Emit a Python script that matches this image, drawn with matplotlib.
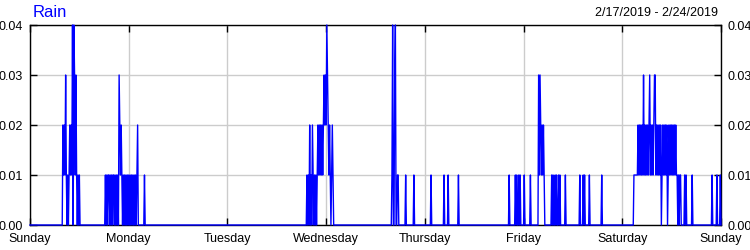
import numpy as np
import pandas as pd
import matplotlib
matplotlib.use('Agg')
import matplotlib.pyplot as plt
import matplotlib.dates as mdates

plt.rcParams['font.family'] = ['Liberation Sans', 'DejaVu Sans']

# readings every 10 minutes starting 2/17/2019 00:00, index = reading number
start = '2019-02-17'
n_slots = 7 * 144 + 1

rain_001 = [49, 51, 53, 55, 57, 59, 61, 66, 68, 70, 72,
            110, 112, 114, 115, 117, 119, 121, 122, 124, 126, 128, 132, 134, 136, 138,
            140, 142, 144, 146, 148, 150, 152, 154, 156, 167,
            404, 406, 410, 413, 415, 417, 419, 421, 423, 425, 427, 436, 438, 440, 442,
            528, 536, 537, 548, 560, 585, 604, 610, 625,
            699, 708, 710, 713, 715, 721, 730, 743, 746, 748, 750, 761, 763, 766, 768,
            771, 773, 781, 802, 807, 809, 816, 834,
            881, 882, 883, 884, 885, 886, 888, 890, 892, 894, 896, 898, 900, 902, 905,
            907, 909, 913, 915, 917, 919, 922, 924, 926, 928, 931, 933, 935, 937, 939,
            941, 943, 944, 946, 948, 949, 955, 957, 966, 995, 1002, 1007]
rain_002 = [48, 50, 58, 60, 131, 133, 157,
            408, 412, 420, 422, 424, 426, 428, 430, 432, 435, 437, 441,
            745, 747, 749,
            887, 889, 891, 893, 897, 899, 901, 903, 906, 908, 910, 914, 916, 918, 920,
            923, 925, 927, 929, 932, 934, 936, 938, 940, 942]
rain_003 = [52, 65, 67, 130, 429, 431, 434, 532, 742, 744, 895, 904, 911, 912]
rain_004 = [62, 64, 433, 529, 533]

times = pd.date_range(start, periods=n_slots, freq='10min')
rain = np.zeros(n_slots)
for idx, val in ((rain_001, 0.01), (rain_002, 0.02), (rain_003, 0.03), (rain_004, 0.04)):
    rain[idx] = val

fig = plt.figure(figsize=(7.5, 2.5), dpi=100)
ax = fig.add_axes([30/750, 0.1, 691/750, 0.8])
ax.plot(times, rain, color='#0000ff', lw=1, clip_on=False, zorder=3)
ax.set_xlim(times[0], times[-1])
ax.set_ylim(0, 0.04)
ax.set_yticks([0, 0.01, 0.02, 0.03, 0.04])
ax.yaxis.set_major_formatter(plt.FormatStrFormatter('%.2f'))
ax.xaxis.set_major_locator(mdates.DayLocator())
ax.xaxis.set_major_formatter(mdates.DateFormatter('%A'))
ax.grid(color='#cccccc', lw=1)
ax.tick_params(direction='in', length=5, width=1, top=True, right=True,
               labelright=True, labelsize=9, pad=5)
ax.tick_params(axis='x', pad=6)
for s in ax.spines.values():
    s.set_linewidth(1)

fig.text(33/750, 1 - 17/250, 'Rain', color='#0000ff', fontsize=12, va='baseline')
fig.text(718/750, 1 - 16/250, '2/17/2019 - 2/24/2019', ha='right', fontsize=9, va='baseline')

fig.savefig('out.png', dpi=100)
